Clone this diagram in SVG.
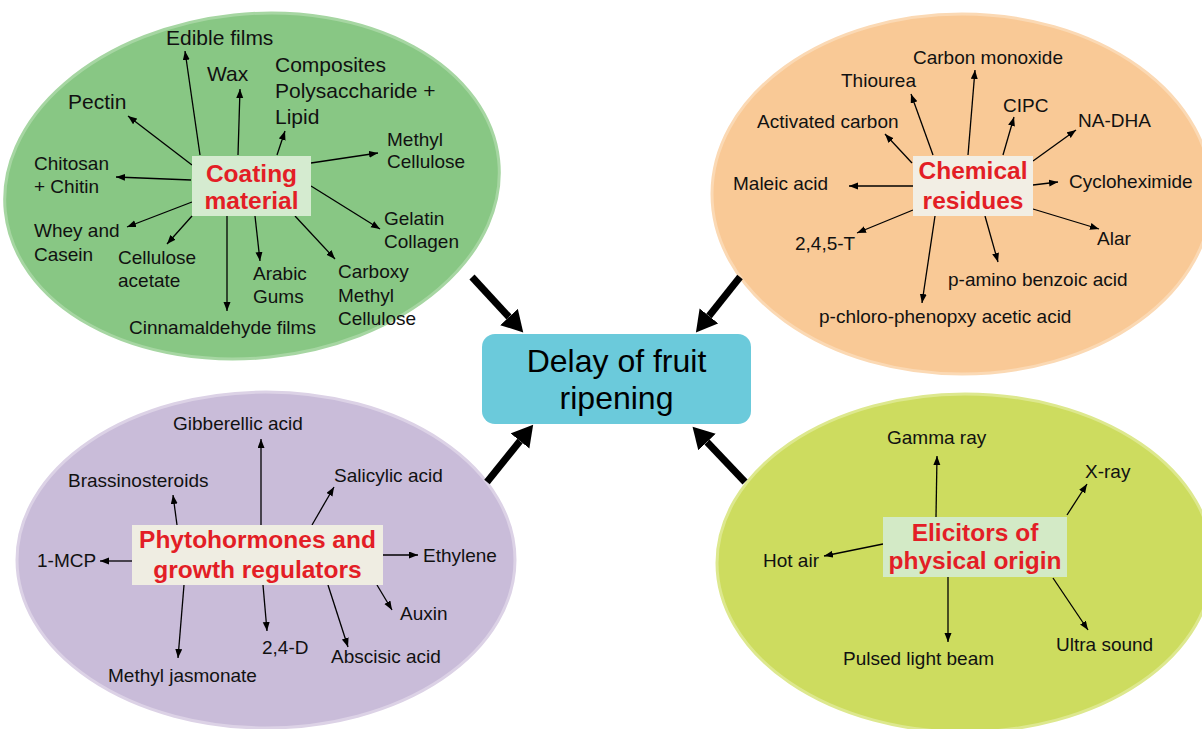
<svg xmlns="http://www.w3.org/2000/svg" width="1202" height="729" viewBox="0 0 1202 729">
<defs>
<style>
.t{font-family:"Liberation Sans",Arial,sans-serif;font-size:19px;fill:#111}
.t21{font-size:21px}
.hub{font-family:"Liberation Sans",Arial,sans-serif;font-size:24.5px;font-weight:bold;fill:#e31e26;text-anchor:middle}
.thin{stroke:#000;stroke-width:1.3;fill:none;marker-end:url(#ah)}
.thick{stroke:#000;stroke-width:7;fill:none;marker-end:url(#bh)}
</style>
<marker id="ah" markerUnits="userSpaceOnUse" markerWidth="10" markerHeight="8" refX="9" refY="3.5" orient="auto"><path d="M0,0 L9,3.5 L0,7 z" fill="#000"/></marker>
<marker id="bh" markerUnits="userSpaceOnUse" markerWidth="24" markerHeight="26" refX="0" refY="12" orient="auto"><path d="M0,0 L21,12 L0,24 z" fill="#000"/></marker>
</defs>
<rect width="1202" height="729" fill="#fff"/>

<g id="coating-cluster">
<ellipse cx="252" cy="186" rx="248" ry="172" transform="rotate(-6 252 186)" fill="#88c784" stroke="#a6d6a2" stroke-width="3"/>
</g>
<g id="chemical-cluster">
<ellipse cx="962" cy="194" rx="250" ry="180" fill="#f9c996" stroke="#fbd9b4" stroke-width="3"/>
</g>
<g id="phyto-cluster">
<ellipse cx="266" cy="560" rx="249" ry="168" fill="#c9bcd9" stroke="#dcd2e6" stroke-width="3"/>
</g>
<g id="elicitor-cluster">
<ellipse cx="965" cy="563" rx="248" ry="169" fill="#cddc5f" stroke="#dde88e" stroke-width="3"/>
</g>

<g id="connectors">
<line class="thick" x1="472" y1="277" x2="509" y2="317"/>
<line class="thick" x1="740" y1="277" x2="709" y2="316"/>
<line class="thick" x1="487" y1="482" x2="520" y2="441"/>
<line class="thick" x1="745" y1="482" x2="707" y2="442"/>
<line class="thin" x1="200" y1="155" x2="185" y2="51"/>
<line class="thin" x1="238" y1="155" x2="240" y2="89"/>
<line class="thin" x1="277" y1="155" x2="285" y2="131"/>
<line class="thin" x1="192" y1="165" x2="128" y2="116"/>
<line class="thin" x1="191" y1="180" x2="116" y2="177"/>
<line class="thin" x1="192" y1="202" x2="127" y2="227"/>
<line class="thin" x1="192" y1="216" x2="167" y2="244"/>
<line class="thin" x1="227" y1="216" x2="227" y2="311"/>
<line class="thin" x1="255" y1="216" x2="260" y2="261"/>
<line class="thin" x1="295" y1="216" x2="335" y2="259"/>
<line class="thin" x1="311" y1="186" x2="380" y2="229"/>
<line class="thin" x1="311" y1="163" x2="378" y2="153"/>
<line class="thin" x1="933" y1="155" x2="911" y2="94"/>
<line class="thin" x1="968" y1="155" x2="975" y2="70"/>
<line class="thin" x1="1003" y1="155" x2="1014" y2="117"/>
<line class="thin" x1="1033" y1="161" x2="1076" y2="130"/>
<line class="thin" x1="912" y1="163" x2="885" y2="134"/>
<line class="thin" x1="913" y1="186" x2="849" y2="186"/>
<line class="thin" x1="1033" y1="185" x2="1058" y2="182"/>
<line class="thin" x1="913" y1="210" x2="857" y2="233"/>
<line class="thin" x1="1033" y1="209" x2="1099" y2="229"/>
<line class="thin" x1="985" y1="216" x2="998" y2="262"/>
<line class="thin" x1="935" y1="216" x2="922" y2="303"/>
<line class="thin" x1="261" y1="525" x2="261" y2="439"/>
<line class="thin" x1="177" y1="525" x2="173" y2="495"/>
<line class="thin" x1="312" y1="525" x2="334" y2="487"/>
<line class="thin" x1="132" y1="561" x2="100" y2="561"/>
<line class="thin" x1="383" y1="555" x2="418" y2="555"/>
<line class="thin" x1="377" y1="585" x2="392" y2="610"/>
<line class="thin" x1="263" y1="585" x2="267" y2="631"/>
<line class="thin" x1="328" y1="585" x2="348" y2="647"/>
<line class="thin" x1="184" y1="585" x2="178" y2="658"/>
<line class="thin" x1="936" y1="517" x2="937" y2="456"/>
<line class="thin" x1="1067" y1="515" x2="1087" y2="484"/>
<line class="thin" x1="883" y1="544" x2="824" y2="556"/>
<line class="thin" x1="948" y1="577" x2="948" y2="642"/>
<line class="thin" x1="1053" y1="578" x2="1088" y2="630"/>
</g>

<g id="center">
<rect x="482" y="334" width="269" height="90" rx="13" fill="#6bcadb"/>
<text x="616.5" y="372" font-family="Liberation Sans, Arial, sans-serif" font-size="32" text-anchor="middle" fill="#000">Delay of fruit</text>
<text x="616.5" y="409" font-family="Liberation Sans, Arial, sans-serif" font-size="32" text-anchor="middle" fill="#000">ripening</text>
</g>

<g id="coating-hub">
<rect x="192" y="156" width="119" height="60" fill="#d5ebd0"/>
<text class="hub" x="251.5" y="182">Coating</text>
<text class="hub" x="251.5" y="209">material</text>
</g>
<g id="chemical-hub">
<rect x="913" y="156" width="120" height="60" fill="#f2eee4"/>
<text class="hub" x="973" y="179">Chemical</text>
<text class="hub" x="973" y="209">residues</text>
</g>
<g id="phyto-hub">
<rect x="132" y="525" width="251" height="60" fill="#efede2"/>
<text class="hub" x="257.5" y="548">Phytohormones and</text>
<text class="hub" x="257.5" y="578">growth regulators</text>
</g>
<g id="elicitor-hub">
<rect x="883" y="517" width="184" height="60" fill="#d3eac6"/>
<text class="hub" x="975" y="541">Elicitors of</text>
<text class="hub" x="975" y="569">physical origin</text>
</g>

<g id="n-edible"><text class="t t21" x="166" y="45">Edible films</text></g>
<g id="n-wax"><text class="t t21" x="207" y="81">Wax</text></g>
<g id="n-composites"><text class="t t21" x="275" y="72">Composites</text><text class="t t21" x="275" y="98">Polysaccharide  +</text><text class="t t21" x="275" y="124">Lipid</text></g>
<g id="n-pectin"><text class="t t21" x="68" y="109">Pectin</text></g>
<g id="n-chitosan"><text class="t" x="34" y="170">Chitosan</text><text class="t" x="34" y="193">+ Chitin</text></g>
<g id="n-methylcell"><text class="t" x="387" y="146">Methyl</text><text class="t" x="387" y="168">Cellulose</text></g>
<g id="n-whey"><text class="t" x="34" y="237">Whey and</text><text class="t" x="34" y="261">Casein</text></g>
<g id="n-cellacetate"><text class="t" x="118" y="264">Cellulose</text><text class="t" x="118" y="287">acetate</text></g>
<g id="n-arabic"><text class="t" x="253" y="280">Arabic</text><text class="t" x="253" y="303">Gums</text></g>
<g id="n-carboxy"><text class="t" x="338" y="278">Carboxy</text><text class="t" x="338" y="302">Methyl</text><text class="t" x="338" y="325">Cellulose</text></g>
<g id="n-gelatin"><text class="t" x="384" y="225">Gelatin</text><text class="t" x="384" y="248">Collagen</text></g>
<g id="n-cinnam"><text class="t" x="129" y="334">Cinnamaldehyde films</text></g>

<g id="n-co"><text class="t" x="913" y="64">Carbon monoxide</text></g>
<g id="n-thiourea"><text class="t" x="841" y="87">Thiourea</text></g>
<g id="n-cipc"><text class="t" x="1003" y="112">CIPC</text></g>
<g id="n-nadha"><text class="t" x="1078" y="127">NA-DHA</text></g>
<g id="n-activated"><text class="t" x="757" y="128">Activated carbon</text></g>
<g id="n-maleic"><text class="t" x="733" y="190" font-size="21.5">Maleic acid</text></g>
<g id="n-cyclo"><text class="t" x="1069" y="188">Cycloheximide</text></g>
<g id="n-245t"><text class="t" x="795" y="250">2,4,5-T</text></g>
<g id="n-alar"><text class="t" x="1097" y="245">Alar</text></g>
<g id="n-paba"><text class="t" x="948" y="286">p-amino benzoic acid</text></g>
<g id="n-pcpa"><text class="t" x="819" y="323">p-chloro-phenopxy acetic acid</text></g>

<g id="n-gibberellic"><text class="t" x="173" y="430">Gibberellic acid</text></g>
<g id="n-brassino"><text class="t" x="68" y="487">Brassinosteroids</text></g>
<g id="n-salicylic"><text class="t" x="334" y="482">Salicylic acid</text></g>
<g id="n-1mcp"><text class="t" x="37" y="567">1-MCP</text></g>
<g id="n-ethylene"><text class="t" x="423" y="562">Ethylene</text></g>
<g id="n-auxin"><text class="t" x="400" y="620">Auxin</text></g>
<g id="n-24d"><text class="t" x="262" y="654">2,4-D</text></g>
<g id="n-abscisic"><text class="t" x="331" y="663">Abscisic acid</text></g>
<g id="n-mj"><text class="t" x="108" y="682">Methyl jasmonate</text></g>

<g id="n-gamma"><text class="t" x="887" y="444">Gamma ray</text></g>
<g id="n-xray"><text class="t" x="1085" y="478">X-ray</text></g>
<g id="n-hotair"><text class="t" x="763" y="567">Hot air</text></g>
<g id="n-pulsed"><text class="t" x="843" y="665">Pulsed light beam</text></g>
<g id="n-ultra"><text class="t" x="1056" y="651">Ultra sound</text></g>
</svg>
